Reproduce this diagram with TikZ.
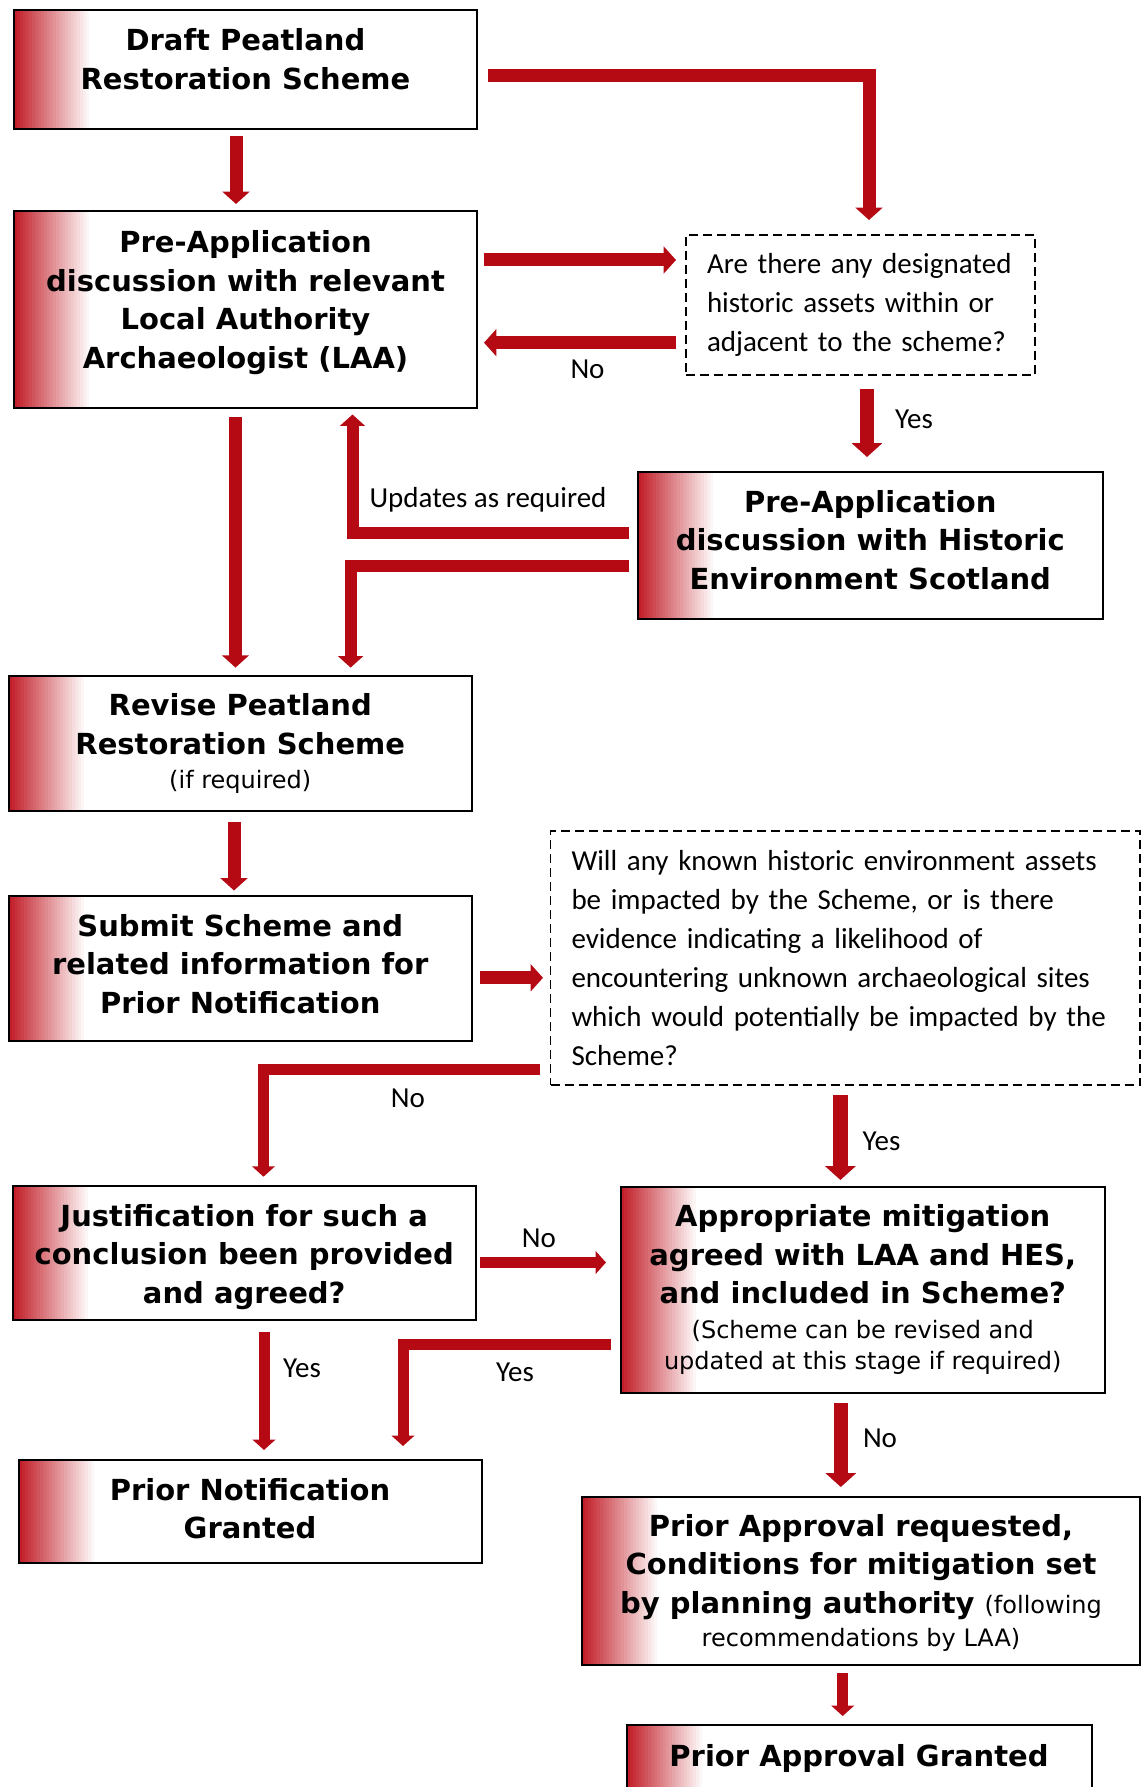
\documentclass[tikz,border=0pt]{standalone}
\usepackage{fontspec}
\setmainfont{Carlito}
\newfontfamily\verd{DejaVu Sans}
\usetikzlibrary{arrows.meta}
\definecolor{arrowred}{RGB}{181,9,20}
\definecolor{fadered}{RGB}{193,30,40}
\newcommand{\bxfont}{\verd\bfseries\fontsize{29}{38.5}\selectfont}
\newcommand{\smfont}{\verd\mdseries\fontsize{24}{31}\selectfont}
\newcommand{\qfont}{\fontsize{29}{39}\selectfont}
\newcommand{\lowstrut}[1]{\rule[-#1]{0pt}{#1}}

\begin{document}
\begin{tikzpicture}[x=1pt,y=-1pt,
 box/.style={draw=black,line width=2pt,fill=white,outer sep=0pt,inner sep=0pt,align=center,font=\bxfont,
  path picture={\foreach \i in {0,...,24}{\pgfmathtruncatemacro\shd{100-4*\i}
   \fill[fadered!\shd!white] ([xshift=\i*3pt]path picture bounding box.south west) rectangle ([xshift=\i*3pt+3.3pt]path picture bounding box.north west);}}},
 ques/.style={draw=black,line width=1.8pt,dash pattern=on 9pt off 5pt,outer sep=0pt,inner xsep=21pt,inner ysep=0pt,align=left,font=\qfont},
 lbl/.style={font=\qfont,inner sep=0pt},
 arr/.style={draw=arrowred,line width=#1,-{Triangle[width=0pt 2.05,length=0pt 0.95]}},
 arr/.default=13pt]
 \useasboundingbox (0,0) rectangle (1141,1787);
 \node[box,minimum width=463pt,minimum height=119pt](draft) at (245.5,69.5){Draft Peatland\\Restoration Scheme\lowstrut{21.5pt}};
 \node[box,minimum width=463pt,minimum height=196pt](laa) at (245.5,309.5){Pre-Application\\discussion with relevant\\Local Authority\\Archaeologist (LAA)\lowstrut{20pt}};
 \node[ques,text width=307pt,minimum height=140pt](q1) at (860.5,305){Are there any designated\\historic assets within or\\adjacent to the scheme?};
 \node[box,minimum width=465.5pt,minimum height=147.5pt](hes) at (870.25,545.25){Pre-Application\\discussion with Historic\\Environment Scotland\lowstrut{11pt}};
 \node[box,minimum width=462.5pt,minimum height=135pt](revise) at (240.25,743.5){Revise Peatland\\Restoration Scheme\\[-4.5pt]{\smfont (if required)}};
 \node[box,minimum width=462.5pt,minimum height=145pt](submit) at (240.25,968.5){Submit Scheme and\\related information for\\Prior Notification\lowstrut{10pt}};
 \node[ques,text width=547.5pt,minimum height=254pt](q2) at (845.25,958){Will any known historic environment assets\\be impacted by the Scheme, or is there\\evidence indicating a likelihood of\\encountering unknown archaeological sites\\which would potentially be impacted by the\\Scheme?};
 \node[box,minimum width=462.5pt,minimum height=134pt](just) at (244.25,1253){\rule{0pt}{30pt}Justification for such a\\conclusion been provided\\and agreed?};
 \node[box,minimum width=483.5pt,minimum height=206pt](approp) at (862.75,1289.5){Appropriate mitigation\\agreed with LAA and HES,\\and included in Scheme?\\[-4pt]{\smfont (Scheme can be revised and}\\[-7.5pt]{\smfont updated at this stage if required)}};
 \node[box,minimum width=463pt,minimum height=103.5pt](png) at (250,1511.25){Prior Notification\\Granted\lowstrut{6pt}};
 \node[box,minimum width=558pt,minimum height=168pt](par) at (861,1580.5){\rule{0pt}{26pt}Prior Approval requested,\\Conditions for mitigation set\\by planning authority {\smfont (following}\\[-5.5pt]{\smfont recommendations by LAA)}};
 \node[box,minimum width=465pt,minimum height=67pt](pag) at (859,1758.5){Prior Approval Granted};
 \draw[arr]([xshift=-9.5pt,yshift=-7pt]draft.south)--([xshift=-9.5pt,yshift=7.5pt]laa.north);
 \draw[arr]([xshift=11pt,yshift=-6.5pt]draft.east)-|([xshift=8.5pt,yshift=15pt]q1.north);
 \draw[arr]([xshift=7pt,yshift=49.5pt]laa.east)--([xshift=-10pt,yshift=45pt]q1.west);
 \draw[arr]([xshift=-10pt,yshift=-37.7pt]q1.west)--([xshift=7pt,yshift=-33.2pt]laa.east);
 \draw[arr=14.5pt]([xshift=6.5pt,yshift=-14pt]q1.south)--([xshift=-3.25pt,yshift=14.5pt]hes.north);
 \draw[arr]([xshift=-10pt,yshift=-9.5pt]laa.south)--([xshift=-4.75pt,yshift=8.4pt]revise.north);
 \draw[arr=12pt]([xshift=-9pt,yshift=12.5pt]hes.west)-|([xshift=107pt,yshift=-7pt]laa.south);
 \draw[arr=12pt]([xshift=-9pt,yshift=-20.75pt]hes.west)-|([xshift=110.35pt,yshift=8.4pt]revise.north);
 \draw[arr]([xshift=-6.25pt,yshift=-11pt]revise.south)--([xshift=-6.25pt,yshift=5.5pt]submit.north);
 \draw[arr]([xshift=8pt,yshift=-9.3pt]submit.east)--([xshift=-7.5pt,yshift=-19.8pt]q2.west);
 \draw[arr=11pt]([xshift=-11pt,yshift=-111.5pt]q2.west)-|([xshift=19.25pt,yshift=9.3pt]just.north);
 \draw[arr=14.5pt]([xshift=-4.85pt,yshift=-10pt]q2.south)--([xshift=-22.35pt,yshift=6.5pt]approp.north);
 \draw[arr=11pt]([xshift=4.1pt,yshift=-9.5pt]just.east)--([xshift=-15pt,yshift=27pt]approp.west);
 \draw[arr=11pt]([xshift=19.75pt,yshift=-11.7pt]just.south)--([xshift=14pt,yshift=9.5pt]png.north);
 \draw[arr=11pt]([xshift=-9.6pt,yshift=-54.8pt]approp.west)-|([xshift=153pt,yshift=13.5pt]png.north);
 \draw[arr=14.5pt]([xshift=-21.95pt,yshift=-10.5pt]approp.south)--([xshift=-20.2pt,yshift=9.5pt]par.north);
 \draw[arr=11pt]([xshift=-18.3pt,yshift=-8.5pt]par.south)--([xshift=-16.3pt,yshift=9pt]pag.north);
 \node[lbl](no1) at (587.5,369){No};
 \node[lbl](yes1) at (914,419){Yes};
 \node[lbl](upd) at (488,499.6){Updates as required};
 \node[lbl](no2) at (408,1098){No};
 \node[lbl](yes2) at (881.5,1141.7){Yes};
 \node[lbl](no3) at (538.8,1238){No};
 \node[lbl](yes3) at (302,1368){Yes};
 \node[lbl](yes4) at (515,1372){Yes};
 \node[lbl](no4) at (880,1438){No};
\end{tikzpicture}
\end{document}
